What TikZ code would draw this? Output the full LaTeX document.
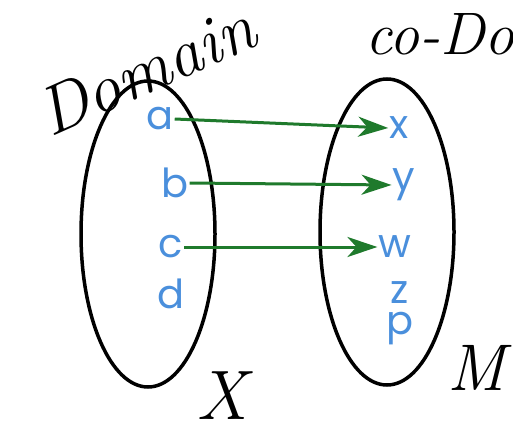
\documentclass[tikz,border=0pt]{standalone}
\usepackage{fontspec}
\setsansfont{Poppins}
\usetikzlibrary{shapes.geometric,arrows.meta}
\definecolor{letterblue}{HTML}{4A8FDC}
\definecolor{arrowgreen}{HTML}{1F7A2C}
\begin{document}
\begin{tikzpicture}[x=1pt,y=-1pt,
  set/.style={draw,ellipse,line width=3.5pt,minimum width=134pt,minimum height=306pt},
  elem/.style={text=letterblue,font=\sffamily\fontsize{40}{40}\selectfont,inner sep=1pt},
  hand/.style={font=\itshape\fontsize{60}{60}\selectfont,text=black},
  map/.style={line width=3pt,arrowgreen,-{Stealth[length=30pt,width=20pt,inset=9pt]}}]
\useasboundingbox (0,0) rectangle (513,433);
\clip (0,0) rectangle (513,433);
\node[set](X) at (148,234) {};
\node[set](M) at (387,232) {};
\node[elem](a) at (160,119) {a};
\node[elem](b) at (175,183) {b};
\node[elem](c) at (171,247) {c};
\node[elem](d) at (171,294) {d};
\node[elem](x) at (399,128) {x};
\node[elem](y) at (404,185) {y};
\node[elem](w) at (395,247) {w};
\node[elem](z) at (400,293) {z};
\node[elem](p) at (400,329) {p};
\draw[map](a.east)--(x.west);
\draw[map](b.east)--(y.west);
\draw[map](c.east)--(w.west);
\node[hand,font=\itshape\fontsize{68}{68}\selectfont,rotate=24](domain) at (146,70) {Domain};
\node[hand,anchor=west](codomain) at (362,34) {co-Domain};
\node[hand,font=\itshape\fontsize{70}{70}\selectfont](xlabel) at (222,396) {X};
\node[hand,font=\itshape\fontsize{66}{66}\selectfont](mlabel) at (476,368) {M};
\end{tikzpicture}
\end{document}
